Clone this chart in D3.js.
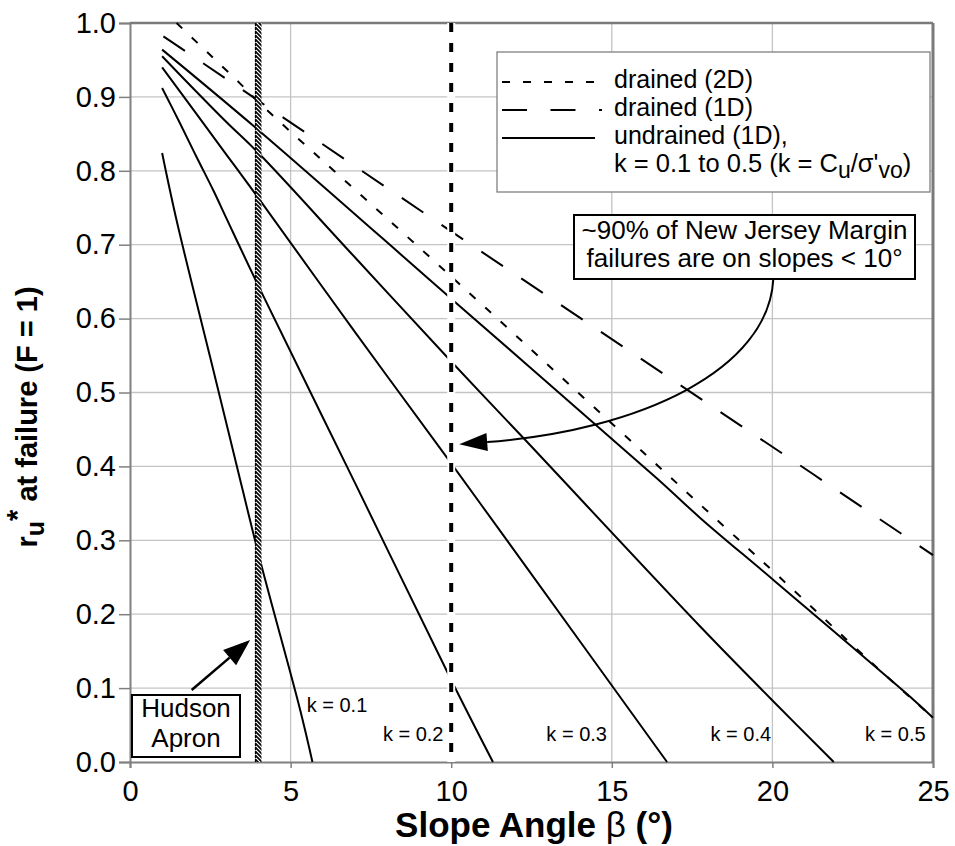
<!DOCTYPE html>
<html lang="en">
<head>
<meta charset="UTF-8">
<title>Pore pressure ratio at failure vs slope angle</title>
<script src="https://d3js.org/d3.v7.min.js"></script>
<style>
    body { margin: 0; background: #fff; }
    svg text { font-family: "Liberation Sans", Arial, sans-serif; fill: #000; }
</style>
</head>
<body>
<svg id="chart" width="955" height="846"></svg>
<script>
    // ---- data ----
    const xTicks = [0, 5, 10, 15, 20, 25];
    const yTicks = [0, 0.1, 0.2, 0.3, 0.4, 0.5, 0.6, 0.7, 0.8, 0.9, 1.0];

    // undrained (1D) curves, one per k
    const kLabels = ["k = 0.1", "k = 0.2", "k = 0.3", "k = 0.4", "k = 0.5"];
    const k1X = [1, 1.45, 2.5, 3.3, 4.05, 5.3, 5.68];
    const k1Y = [0.824, 0.733, 0.547, 0.405, 0.273, 0.07, 0];
    const k2X = [1, 1.56, 2.08, 2.6, 3.01, 4, 7, 10, 11.3];
    const k2Y = [0.912, 0.864, 0.818, 0.773, 0.735, 0.644, 0.378, 0.111, 0];
    const k3X = [1, 2, 3, 4, 7, 10, 12.3, 16.72];
    const k3Y = [0.940, 0.881, 0.822, 0.763, 0.582, 0.404, 0.266, 0];
    const k4X = [1, 2, 3, 4, 7, 10, 12.3, 17.76, 19.94, 21.91];
    const k4Y = [0.955, 0.91, 0.866, 0.824, 0.683, 0.542, 0.436, 0.183, 0.086, 0];
    const k5X = [1, 4, 10, 16.4, 17.76, 20.04, 24.4, 25];
    const k5Y = [0.964, 0.855, 0.627, 0.384, 0.330, 0.246, 0.084, 0.06];

    // drained curves
    const drained2DX = [1.45, 2.49, 3.43, 4, 10, 17.76, 20.15, 23.1, 25];
    const drained2DY = [1.0, 0.957, 0.918, 0.893, 0.657, 0.348, 0.253, 0.134, 0.06];
    const drained1DX = [1.04, 10, 21.25, 25];
    const drained1DY = [0.982, 0.718, 0.39, 0.28];

    // marked slope angles
    const markerSlopes = [4, 10];

    // ---- layout ----
    const svg = d3.select("#chart");
    const x = d3.scaleLinear().domain([0, 25]).range([130, 933]);
    const y = d3.scaleLinear().domain([0, 1]).range([762, 23]);

    const zip = (xs, ys) => xs.map((v, i) => [v, ys[i]]);
    const line = d3.line().x(d => x(d[0])).y(d => y(d[1]));
    const smooth = d3.line().x(d => x(d[0])).y(d => y(d[1])).curve(d3.curveCatmullRom);

    svg.append("rect").attr("width", 955).attr("height", 846).attr("fill", "#fff");

    // gridlines
    svg.append("g")
        .selectAll("line")
        .data(xTicks.filter(t => t > 0 && t < 25))
        .join("line")
        .attr("x1", d => x(d)).attr("x2", d => x(d))
        .attr("y1", y(0)).attr("y2", y(1))
        .attr("stroke", "#c4c4c4").attr("stroke-width", 1.3);

    svg.append("g")
        .selectAll("line")
        .data(yTicks.filter(t => t > 0 && t < 1))
        .join("line")
        .attr("x1", x(0)).attr("x2", x(25))
        .attr("y1", d => y(d)).attr("y2", d => y(d))
        .attr("stroke", "#c4c4c4").attr("stroke-width", 1.3);

    // axes
    const yAxis = svg.append("g")
        .attr("transform", `translate(${x(0)},0)`)
        .call(d3.axisLeft(y).tickValues(yTicks).tickFormat(d3.format(".1f")).tickSize(11).tickPadding(3));
    const xAxis = svg.append("g")
        .attr("transform", `translate(0,${y(0)})`)
        .call(d3.axisBottom(x).tickValues(xTicks).tickFormat(d3.format("d")).tickSize(6).tickPadding(12));

    [yAxis, xAxis].forEach(a => {
        a.select(".domain").attr("stroke", "#808080").attr("stroke-width", 2);
        a.selectAll(".tick line").attr("stroke", "#808080").attr("stroke-width", 1.5);
        a.selectAll(".tick text")
            .style("font-family", "'Liberation Sans', Arial, sans-serif")
            .style("font-size", "29px")
            .attr("fill", "#000");
    });

    // top and right frame
    svg.append("line")
        .attr("x1", x(0)).attr("x2", x(25)).attr("y1", y(1)).attr("y2", y(1))
        .attr("stroke", "#7a7a7a").attr("stroke-width", 2.5);
    svg.append("line")
        .attr("x1", x(25)).attr("x2", x(25)).attr("y1", y(1)).attr("y2", y(0))
        .attr("stroke", "#7a7a7a").attr("stroke-width", 3);

    // curves
    const undrained = [zip(k1X, k1Y), zip(k2X, k2Y), zip(k3X, k3Y), zip(k4X, k4Y), zip(k5X, k5Y)];
    svg.append("g")
        .selectAll("path")
        .data(undrained)
        .join("path")
        .attr("d", smooth)
        .attr("fill", "none")
        .attr("stroke", "#000")
        .attr("stroke-width", 2);

    svg.append("path")
        .attr("d", smooth(zip(drained2DX, drained2DY)))
        .attr("fill", "none").attr("stroke", "#000").attr("stroke-width", 2)
        .attr("stroke-dasharray", "8,13");

    svg.append("path")
        .attr("d", line(zip(drained1DX, drained1DY)))
        .attr("fill", "none").attr("stroke", "#000").attr("stroke-width", 2)
        .attr("stroke-dasharray", "26,22");

    // hatched vertical lines at 4 and 10 degrees
    const defs = svg.append("defs");
    const hatch = defs.append("pattern")
        .attr("id", "hatch")
        .attr("patternUnits", "userSpaceOnUse")
        .attr("width", 4).attr("height", 4);
    hatch.append("rect").attr("width", 4).attr("height", 4).attr("fill", "#fff");
    hatch.append("path").attr("d", "M0,0 L4,4 M-1,3 L1,5 M3,-1 L5,1")
        .attr("stroke", "#000").attr("stroke-width", 1.6);

    svg.append("rect")
        .attr("x", x(markerSlopes[0]) - 3).attr("y", y(1))
        .attr("width", 6).attr("height", y(0) - y(1))
        .attr("fill", "url(#hatch)");
    svg.append("line")
        .attr("x1", x(markerSlopes[0]) - 3).attr("x2", x(markerSlopes[0]) - 3)
        .attr("y1", y(1)).attr("y2", y(0))
        .attr("stroke", "#000").attr("stroke-width", 1.2).attr("stroke-dasharray", "3,1");

    svg.append("rect")
        .attr("x", x(markerSlopes[1]) - 4).attr("y", y(1))
        .attr("width", 8).attr("height", y(0) - y(1))
        .attr("fill", "#fff");
    svg.append("line")
        .attr("x1", x(markerSlopes[1])).attr("x2", x(markerSlopes[1]))
        .attr("y1", y(1)).attr("y2", y(0))
        .attr("stroke", "#000").attr("stroke-width", 4)
        .attr("stroke-dasharray", "9,11");

    // k labels
    const kLabelX = [5.5, 9.76, 14.85, 19.96, 24.77];
    const kLabelY = [0.068, 0.029, 0.029, 0.029, 0.029];
    svg.append("g")
        .selectAll("text")
        .data(kLabels)
        .join("text")
        .attr("x", (d, i) => x(kLabelX[i]))
        .attr("y", (d, i) => y(kLabelY[i]))
        .attr("text-anchor", (d, i) => i === 0 ? "start" : "end")
        .style("font-size", "20px")
        .text(d => d);

    // legend
    const legend = svg.append("g");
    legend.append("rect")
        .attr("x", 497).attr("y", 52).attr("width", 433).attr("height", 140)
        .attr("fill", "#fff").attr("stroke", "#808080").attr("stroke-width", 1.3);
    legend.append("line").attr("x1", 502).attr("x2", 595).attr("y1", 82).attr("y2", 82)
        .attr("stroke", "#000").attr("stroke-width", 2).attr("stroke-dasharray", "8,13");
    legend.append("line").attr("x1", 502).attr("x2", 602).attr("y1", 110).attr("y2", 110)
        .attr("stroke", "#000").attr("stroke-width", 2).attr("stroke-dasharray", "25,23.5");
    legend.append("line").attr("x1", 502).attr("x2", 595).attr("y1", 138).attr("y2", 138)
        .attr("stroke", "#000").attr("stroke-width", 2);
    const legendText = ["drained (2D)", "drained (1D)", "undrained (1D),"];
    legend.selectAll("text.row")
        .data(legendText)
        .join("text")
        .attr("class", "row")
        .attr("x", 614).attr("y", (d, i) => 88 + i * 28)
        .style("font-size", "25px")
        .text(d => d);
    const kLine = legend.append("text").attr("x", 614).attr("y", 172).style("font-size", "25.5px");
    kLine.append("tspan").text("k = 0.1 to 0.5 (k = C");
    kLine.append("tspan").attr("dy", 6).style("font-size", "23px").text("u");
    kLine.append("tspan").attr("dy", -6).text("/σ'");
    kLine.append("tspan").attr("dy", 6).style("font-size", "23px").text("vo");
    kLine.append("tspan").attr("dy", -6).text(")");

    // arrowhead helper (pixel space)
    function arrowHead(tip, from, len, half) {
        const dx = from[0] - tip[0], dy = from[1] - tip[1];
        const l = Math.hypot(dx, dy);
        const ux = dx / l, uy = dy / l;
        const bx = tip[0] + ux * len, by = tip[1] + uy * len;
        return { base: [bx, by], pts: [tip, [bx - uy * half, by + ux * half], [bx + uy * half, by - ux * half]] };
    }

    // New Jersey margin annotation: cubic curve from box to the 10 degree line
    const njStart = [20.03, 0.654];
    const njCtrl1 = [19.88, 0.530];
    const njCtrl2 = [15.89, 0.449];
    const njTip = [10.25, 0.430];
    const njHead = arrowHead([x(njTip[0]), y(njTip[1])], [x(njCtrl2[0]), y(njCtrl2[1])], 28, 9);
    const njPath = d3.path();
    njPath.moveTo(x(njStart[0]), y(njStart[1]));
    njPath.bezierCurveTo(x(njCtrl1[0]), y(njCtrl1[1]), x(njCtrl2[0]), y(njCtrl2[1]), njHead.base[0], njHead.base[1]);
    svg.append("path")
        .attr("d", njPath.toString())
        .attr("fill", "none").attr("stroke", "#000").attr("stroke-width", 2);
    svg.append("polygon")
        .attr("points", njHead.pts.map(p => p.join(",")).join(" "))
        .attr("fill", "#000");

    svg.append("rect")
        .attr("x", 574).attr("y", 215).attr("width", 341).attr("height", 64)
        .attr("fill", "#fff").attr("stroke", "#000").attr("stroke-width", 2);
    svg.append("text").attr("x", 744.5).attr("y", 239).attr("text-anchor", "middle")
        .style("font-size", "26px").text("~90% of New Jersey Margin");
    svg.append("text").attr("x", 744.5).attr("y", 267).attr("text-anchor", "middle")
        .style("font-size", "26px").text("failures are on slopes < 10°");

    // Hudson Apron annotation
    const hudTail = [1.92, 0.0974];
    const hudTip = [3.74, 0.165];
    const hudHead = arrowHead([x(hudTip[0]), y(hudTip[1])], [x(hudTail[0]), y(hudTail[1])], 27, 10);
    svg.append("line")
        .attr("x1", x(hudTail[0])).attr("y1", y(hudTail[1]))
        .attr("x2", hudHead.base[0]).attr("y2", hudHead.base[1])
        .attr("stroke", "#000").attr("stroke-width", 2.5);
    svg.append("polygon")
        .attr("points", hudHead.pts.map(p => p.join(",")).join(" "))
        .attr("fill", "#000");

    svg.append("rect")
        .attr("x", 132).attr("y", 695).attr("width", 108).attr("height", 62)
        .attr("fill", "#fff").attr("stroke", "#000").attr("stroke-width", 2);
    svg.append("text").attr("x", 186).attr("y", 717).attr("text-anchor", "middle")
        .style("font-size", "26px").text("Hudson");
    svg.append("text").attr("x", 186).attr("y", 747).attr("text-anchor", "middle")
        .style("font-size", "26px").text("Apron");

    // axis titles
    const xTitle = svg.append("text")
        .attr("x", 534).attr("y", 837).attr("text-anchor", "middle")
        .style("font-size", "35px").style("font-weight", "bold");
    xTitle.append("tspan").text("Slope Angle ");
    xTitle.append("tspan").style("font-weight", "normal").text("β");
    xTitle.append("tspan").text(" (°)");

    const yTitle = svg.append("text")
        .attr("transform", "translate(37,417) rotate(-90)")
        .attr("text-anchor", "middle")
        .style("font-size", "29px").style("font-weight", "bold");
    yTitle.append("tspan").text("r");
    yTitle.append("tspan").attr("dy", 7).style("font-size", "25px").text("u");
    yTitle.append("tspan").attr("dy", -17).text("*");
    yTitle.append("tspan").attr("dy", 10).text(" at failure (F = 1)");
</script>
</body>
</html>
